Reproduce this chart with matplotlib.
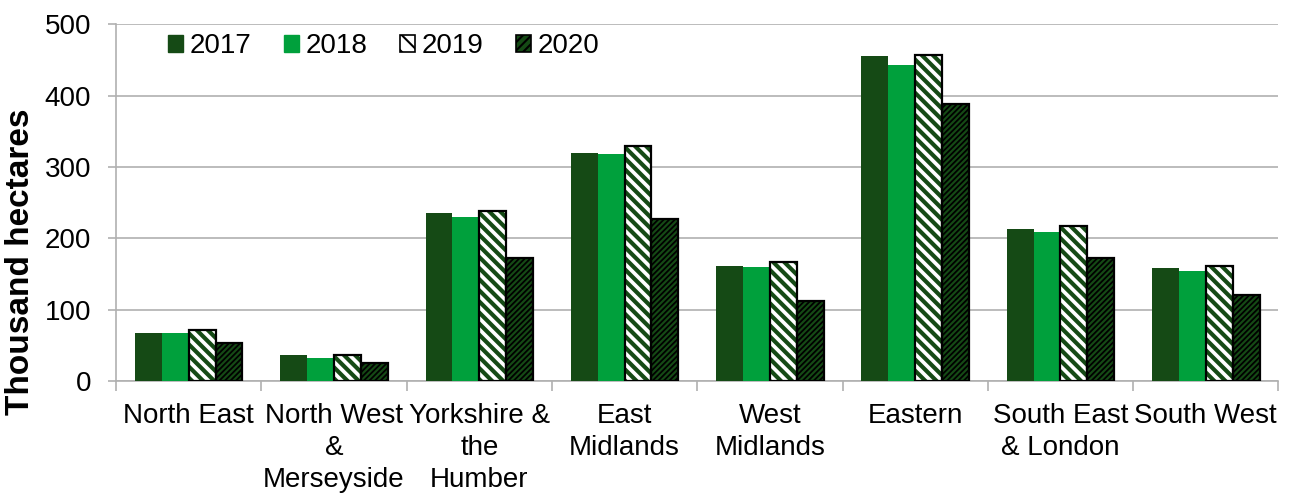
import matplotlib
matplotlib.use("Agg")
import matplotlib.pyplot as plt
import numpy as np
from matplotlib.patches import Patch

regions = ["North East", "North West\n&\nMerseyside", "Yorkshire &\nthe\nHumber",
           "East\nMidlands", "West\nMidlands", "Eastern", "South East\n& London", "South West"]
years = ["2017", "2018", "2019", "2020"]
v2017 = [68, 36, 235, 319, 161, 455, 213, 158]
v2018 = [68, 32, 230, 318, 160, 443, 209, 154]
v2019 = [71, 36, 238, 330, 167, 457, 217, 161]
v2020 = [54, 25, 172, 227, 112, 388, 172, 121]

plt.rcParams['font.family'] = ['Liberation Sans', 'DejaVu Sans']

dark = '#154a15'
bright = '#00a03c'
FS = 20

fig = plt.figure(figsize=(12.9, 4.93), dpi=100)
ax = fig.add_axes([0.09, 0.227, 0.901, 0.724])

x = np.arange(len(regions))
w = 0.185
offs = [-1.5 * w, -0.5 * w, 0.5 * w, 1.5 * w]


def set_hlw(container, lw):
    for p in container:
        if hasattr(p, 'set_hatch_linewidth'):
            p.set_hatch_linewidth(lw)


ax.bar(x + offs[0], v2017, w, color=dark, zorder=3)
ax.bar(x + offs[1], v2018, w, color=bright, zorder=3)
with plt.rc_context({'hatch.linewidth': 3.0}):
    b19 = ax.bar(x + offs[2], v2019, w, color='white', edgecolor=dark, hatch='\\\\\\', linewidth=0, zorder=3)
set_hlw(b19, 3.0)
ax.bar(x + offs[2], v2019, w, fill=False, edgecolor='black', linewidth=1.6, zorder=4)
with plt.rc_context({'hatch.linewidth': 1.3}):
    b20 = ax.bar(x + offs[3], v2020, w, color=dark, edgecolor='black', hatch='//////', linewidth=1.6, zorder=3)
set_hlw(b20, 1.3)

ax.set_xlim(-0.5, len(regions) - 0.5)
ax.set_ylim(0, 500)
ax.set_yticks([0, 100, 200, 300, 400, 500])
ax.yaxis.grid(True, color='#b0b0b0', linewidth=1.2, zorder=0)
ax.set_axisbelow(True)

ax.set_xticks(x)
ax.set_xticklabels(regions, fontsize=FS, linespacing=1.28)
ax.set_xticks(np.arange(len(regions) + 1) - 0.5, minor=True)
ax.tick_params(axis='x', which='major', length=0, pad=16)
ax.tick_params(axis='x', which='minor', length=7, color='#b0b0b0', width=1.2)
ax.tick_params(axis='y', labelsize=FS, length=6, color='#b0b0b0', width=1.2, pad=12)

for s in ['top', 'right']:
    ax.spines[s].set_visible(False)
for s in ['left', 'bottom']:
    ax.spines[s].set_color('#b0b0b0')
    ax.spines[s].set_linewidth(1.2)

ax.set_ylabel('Thousand hectares', fontsize=24, fontweight='bold')
ax.yaxis.set_label_coords(-0.069, 0.333)

handles = [
    Patch(facecolor=dark, edgecolor=dark),
    Patch(facecolor=bright, edgecolor=bright),
    Patch(facecolor='white', edgecolor='black', hatch='\\\\', linewidth=1.2),
    Patch(facecolor=dark, edgecolor='black', hatch='////', linewidth=1.2),
]
with plt.rc_context({'hatch.linewidth': 1.5}):
    leg = ax.legend(handles, years, ncol=4, loc='upper left', bbox_to_anchor=(0.023, 1.045),
                    frameon=False, fontsize=FS, handlelength=0.55, handleheight=0.55,
                    handletextpad=0.25, columnspacing=1.15)

fig.savefig('out.png', dpi=100)
